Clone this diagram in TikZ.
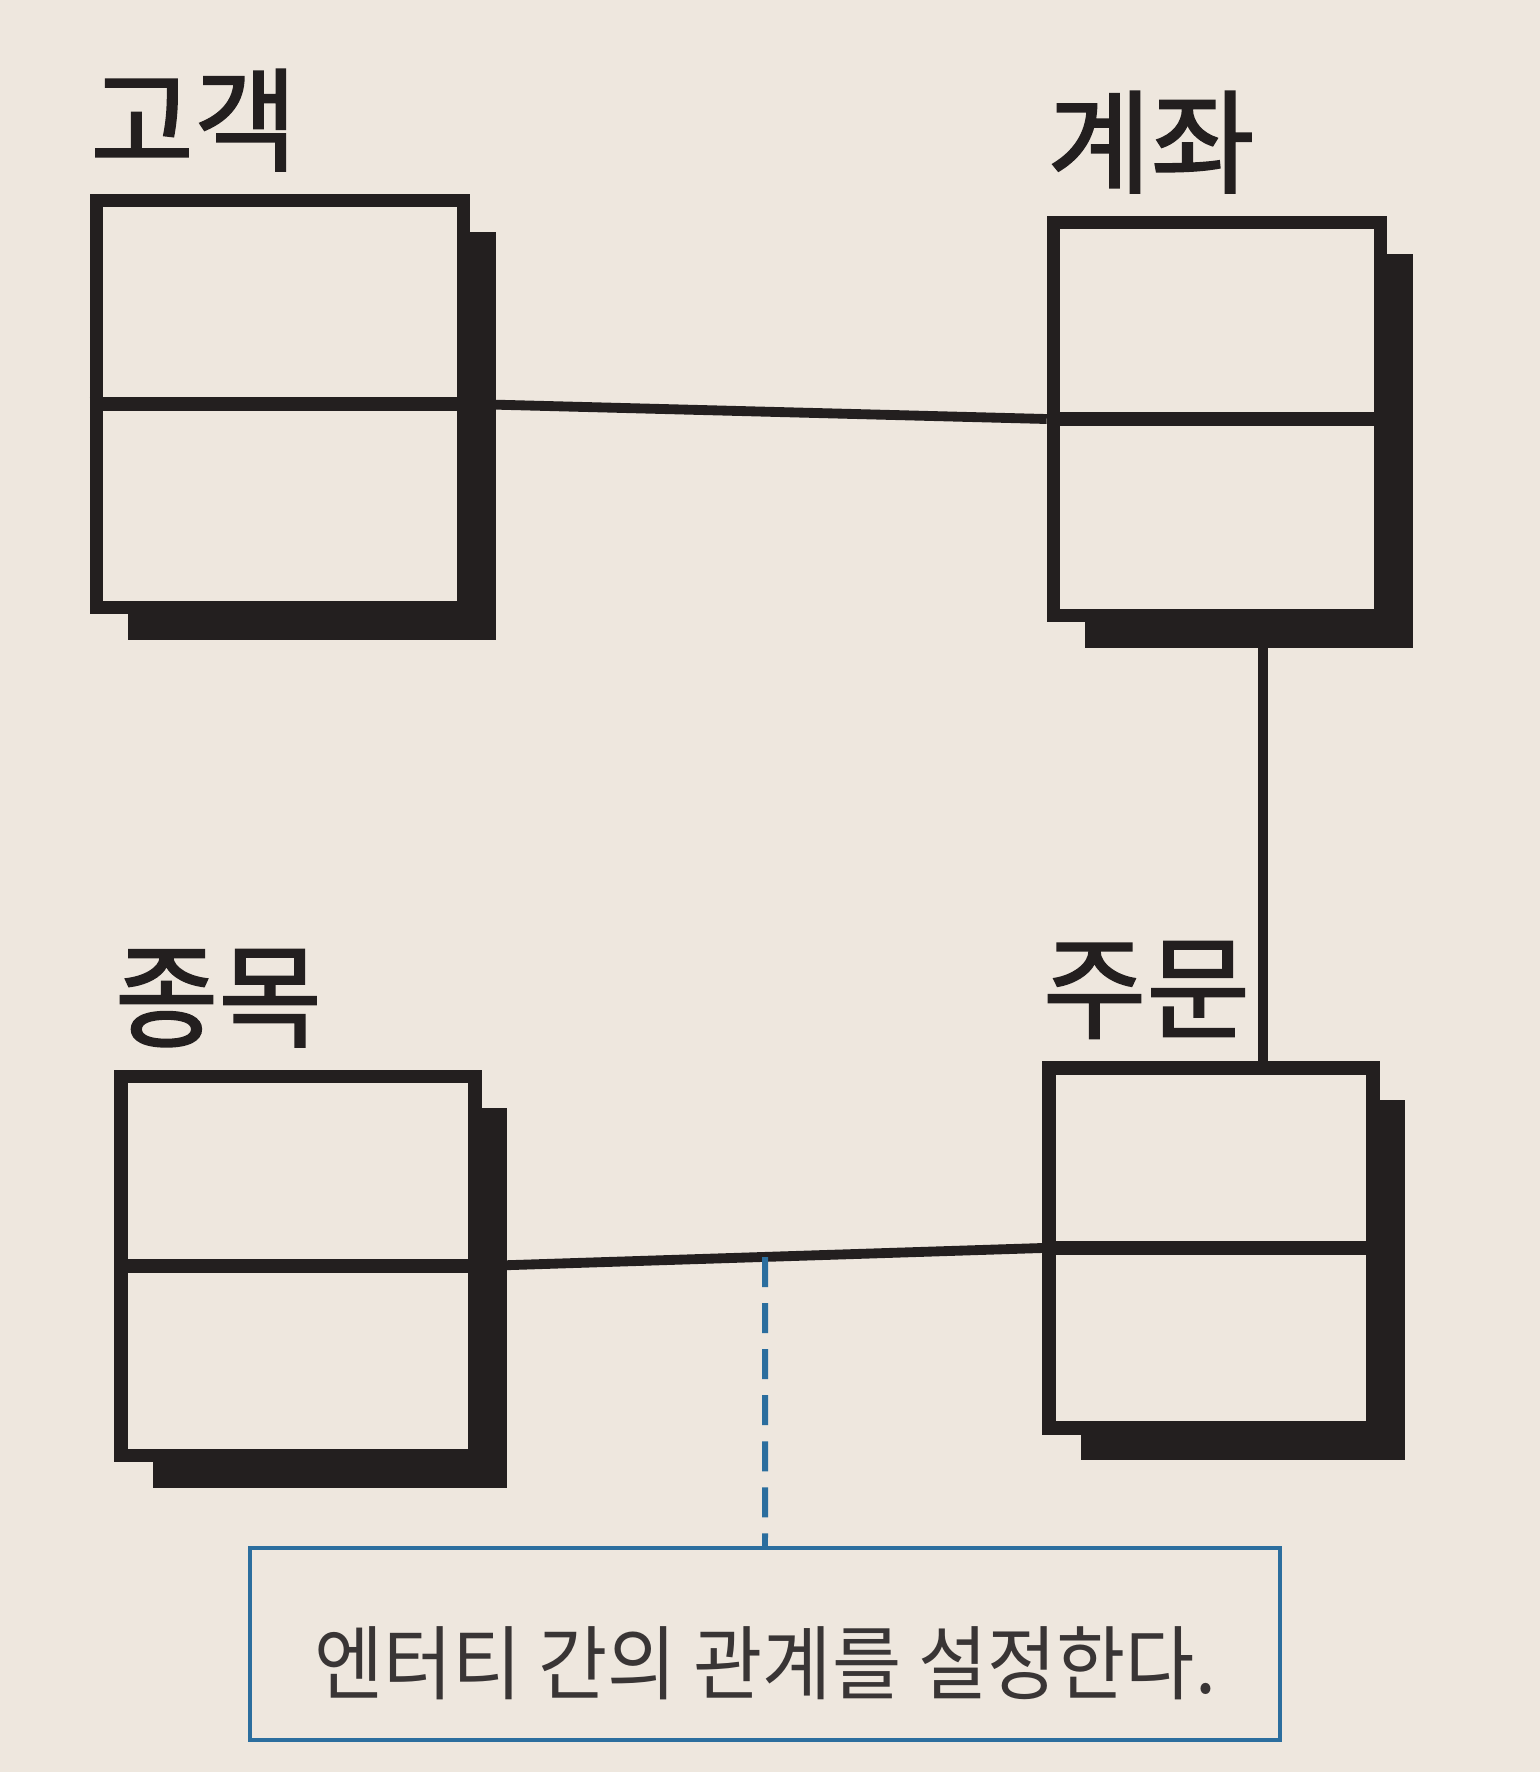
\documentclass[tikz,border=0pt]{standalone}
\usepackage{graphicx}
\usepackage{fontspec}
\newfontfamily\krfont{Noto Sans CJK KR}
\newfontfamily\krname[FakeBold=1.6]{Noto Sans CJK KR}
\usetikzlibrary{positioning,shadows,calc}
\definecolor{paper}{RGB}{238,231,222}
\definecolor{ink}{RGB}{35,31,31}
\definecolor{noteblue}{RGB}{43,110,158}
\begin{document}
\begin{tikzpicture}[x=0.01cm, y=-0.01cm,
    entity/.style={rectangle, draw=ink, line width=3.8pt, fill=paper, inner sep=0pt,
        drop shadow={shadow xshift=0.32cm, shadow yshift=-0.32cm, fill=ink, opacity=1}},
    entname/.style={anchor=south west, inner sep=0pt, text=ink,
        font=\krname\fontsize{32}{32}\selectfont},
    divider/.style={draw=ink, line width=3.8pt},
    link/.style={draw=ink, line width=2.8pt},
    dashline/.style={draw=noteblue, line width=1.7pt, dash pattern=on 0.3cm off 0.16cm},
    note/.style={rectangle, draw=noteblue, line width=1.2pt,
        minimum width=10.29cm, minimum height=1.92cm},
    notetext/.style={text=ink!90, yshift=-0.19cm, inner sep=0pt,
        font=\krfont\fontsize{23}{23}\selectfont}]

        % Page and background
        \useasboundingbox (0,0) rectangle (1540,1772);
        \fill[paper] (0,0) rectangle (1540,1772);

        % Entities
        \node[entity, minimum width=3.67cm, minimum height=4.07cm] (gogaek) at (280,404) {};
        \node[entity, minimum width=3.27cm, minimum height=3.93cm] (gyejwa) at (1217,419) {};
        \node[entity, minimum width=3.54cm, minimum height=3.79cm] (jongmok) at (298,1266) {};
        \node[entity, minimum width=3.24cm, minimum height=3.60cm] (jumun) at (1211,1248) {};

        % Split each entity in two
        \foreach \n in {gogaek,gyejwa,jongmok,jumun}
            \draw[divider] (\n.west) -- (\n.east);

        % Entity names
        \node[entname] (gogaekname) at ([yshift=0.22cm]gogaek.north west) {고객};
        \node[entname] (gyejwaname) at ([yshift=0.22cm]gyejwa.north west) {계좌};
        \node[entname] (jongmokname) at ([yshift=0.22cm]jongmok.north west) {종목};
        \node[entname] (jumunname) at ([yshift=0.22cm]jumun.north west) {주문};

        % Relationships
        \draw[link] (gogaek.east) -- (gyejwa.west);
        \draw[link] (jongmok.east) -- (jumun.west);
        \coordinate (drop) at ([xshift=0.46cm]gyejwa.south);
        \draw[link] (drop) -- (drop |- jumun.north);

        % Note
        \node[note, label={[notetext]center:\scalebox{0.93}[1]{엔터티 간의 관계를 설정한다.}}] (note) at (765,1644) {};
        \draw[dashline] (intersection of jongmok.east--jumun.west and note.north--note.center) -- (note.north);

\end{tikzpicture}
\end{document}
